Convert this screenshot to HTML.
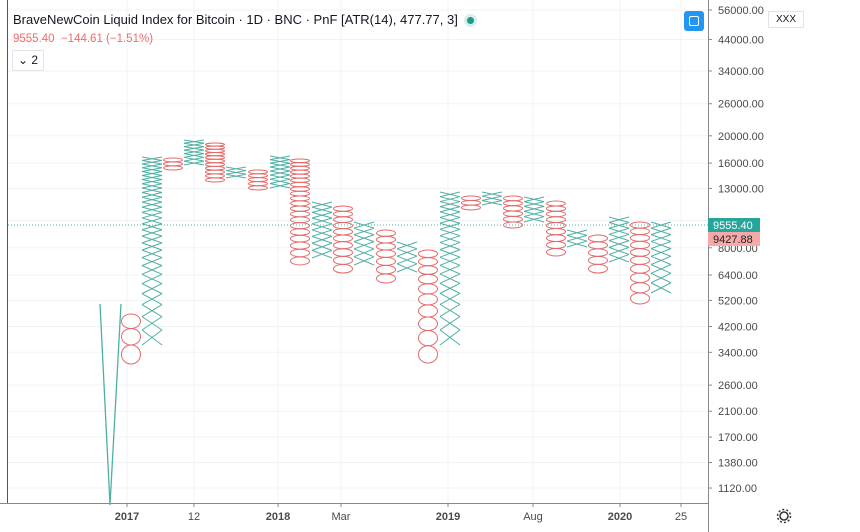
<!DOCTYPE html>
<html><head><meta charset="utf-8"><style>
body{margin:0;background:#fff;font-family:"Liberation Sans",sans-serif;}
#c{position:relative;width:860px;height:532px;overflow:hidden;}
</style></head><body><div id="c">
<svg id="s" width="860" height="532" xmlns="http://www.w3.org/2000/svg" style="position:absolute;left:0;top:0"></svg>
<div style="position:absolute;left:13px;top:12px;font-size:13px;color:#131722;white-space:nowrap;">BraveNewCoin Liquid Index for Bitcoin · 1D · BNC · PnF [ATR(14), 477.77, 3]</div>
<div style="position:absolute;left:464px;top:14px;width:13px;height:13px;border-radius:50%;background:#d5eeea"></div>
<div style="position:absolute;left:467px;top:17px;width:7px;height:7px;border-radius:50%;background:#1e9a8a"></div>
<div style="position:absolute;left:13px;top:33px;font-size:11.5px;color:#ef6b6b;">9555.40 &nbsp;−144.61 (−1.51%)</div>
<div style="position:absolute;left:12px;top:50px;width:30px;height:19px;border:1px solid #e0e3eb;border-radius:2px;font-size:12px;color:#131722;line-height:19px;text-align:center;">⌄ 2</div>
<div style="position:absolute;left:684px;top:11px;width:20px;height:20px;border-radius:3px;background:#2196f3;"><div style="position:absolute;left:5px;top:5px;width:8px;height:8px;border:1.5px solid #fff;border-radius:2px"></div></div>
<div style="position:absolute;left:768px;top:11px;width:34px;height:15px;border:1px solid #e0e3eb;font-size:10px;line-height:15px;text-align:center;color:#131722;">XXX</div>
</div>
<script>
const s=document.getElementById('s');let h='';
const Y=p=>10+(10.933-Math.log(p))*122.2;
const P=y=>Math.exp(10.933-(y-10)/122.2);
const AX=708,BOT=503;
const ticks=[56000,44000,34000,26000,20000,16000,13000,10000,8000,6400,5200,4200,3400,2600,2100,1700,1380,1120];
const xt=[[127,'2017',1],[194,'12',0],[278,'2018',1],[341,'Mar',0],[448,'2019',1],[533,'Aug',0],[620,'2020',1],[681,'25',0]];
for(const t of ticks){const y=Y(t).toFixed(1);h+=`<line x1="8" x2="${AX}" y1="${y}" y2="${y}" stroke="#f0f3f7"/>`;}
for(const [x] of xt)h+=`<line x1="${x}" x2="${x}" y1="0" y2="${BOT}" stroke="#f0f3f7"/>`;
h+=`<line x1="7.5" x2="7.5" y1="0" y2="${BOT}" stroke="#555"/>`;
h+=`<line x1="${AX}.5" x2="${AX}.5" y1="0" y2="532" stroke="#888"/>`;
h+=`<line x1="0" x2="${AX}" y1="${BOT}.5" y2="${BOT}.5" stroke="#888"/>`;
for(const t of ticks){const y=Y(t);if(t==10000)continue;h+=`<line x1="${AX}" x2="${AX+4}" y1="${y}" y2="${y}" stroke="#888"/><text x="${AX+10}" y="${y+4}" font-size="11" fill="#4a4a4a">${t.toFixed(2)}</text>`;}
for(const [x,l,b] of xt)h+=`<line x1="${x}" x2="${x}" y1="${BOT}" y2="${BOT+4}" stroke="#888"/><text x="${x}" y="520" font-size="11" text-anchor="middle" fill="#4a4a4a" ${b?'font-weight="bold"':''}>${l}</text>`;
h+=`<circle cx="784" cy="516" r="4" fill="none" stroke="#333" stroke-width="1.5"/><circle cx="784" cy="516" r="6.5" fill="none" stroke="#333" stroke-width="1.5" stroke-dasharray="2 2.1"/>`;
const T='#4fb0a2',R='#e46a6a',B=477.77;
h+=`<polyline points="100,304 110,505 121,304" fill="none" stroke="${T}" stroke-width="1.3"/>`;
const cols=[[131,'O',314,364],[152,'X',157,345],[173,'O',158,170],[194,'X',140,165],[215,'O',143,182],[236,'X',167,178],[258,'O',170,190],[280,'X',156,188],[300,'O',159,265],[322,'X',202,258],[343,'O',206,273],[364,'X',222,265],[386,'O',230,283],[407,'X',242,272],[428,'O',250,363],[450,'X',192,345],[471,'O',196,210],[492,'X',192,205],[513,'O',196,228],[534,'X',197,222],[556,'O',201,256],[577,'X',230,247],[598,'O',235,273],[619,'X',217,262],[640,'O',222,304],[661,'X',222,293]];
for(const [x,t,y1,y2] of cols){
 const hi=P(y1),lo=P(y2);let n=Math.max(1,Math.round((hi-lo)/B));
 for(let i=0;i<n;i++){const pa=lo+i*(hi-lo)/n,pb=lo+(i+1)*(hi-lo)/n;const ya=Y(pa),yb=Y(pb);
  if(t=='X')h+=`<path d="M${x-10} ${yb}L${x+10} ${ya}M${x-10} ${ya}L${x+10} ${yb}" stroke="${T}" stroke-width="1" fill="none"/>`;
  else h+=`<ellipse cx="${x}" cy="${(ya+yb)/2}" rx="9.5" ry="${Math.max(1.5,(ya-yb)/2)}" fill="none" stroke="${R}" stroke-width="1"/>`;}
}
h+=`<line x1="8" x2="${AX}" y1="225" y2="225" stroke="${T}" stroke-dasharray="1 2"/>`;
h+=`<rect x="${AX}" y="218" width="52" height="14" fill="#26a69a"/><text x="${AX+5}" y="229" font-size="11" fill="#fff">9555.40</text>`;
h+=`<rect x="${AX}" y="232" width="52" height="14" fill="#f7a9a9"/><text x="${AX+5}" y="243" font-size="11" fill="#222">9427.88</text>`;
s.innerHTML=h;
</script></body></html>
